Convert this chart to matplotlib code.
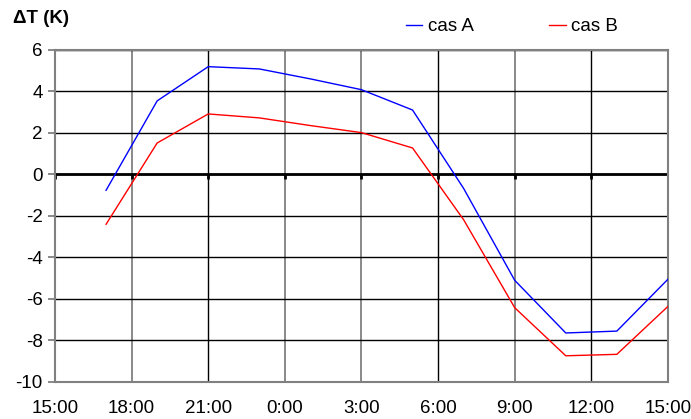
import numpy as np
import matplotlib
matplotlib.use("Agg")
import matplotlib.pyplot as plt

plt.rcParams['font.family'] = ['Liberation Sans', 'DejaVu Sans']

# --- données (heures depuis 0:00 du premier jour) ---
heures = [17, 19, 21, 23, 25, 27, 29, 31, 33, 35, 37, 39]
cas_a = [-0.77, 3.54, 5.19, 5.08, 4.6, 4.08, 3.10, -0.68, -5.11, -7.65, -7.56, -5.06]
cas_b = [-2.41, 1.51, 2.91, 2.72, 2.35, 2.01, 1.27, -2.19, -6.43, -8.75, -8.68, -6.37]

ticks_x = [15, 18, 21, 24, 27, 30, 33, 36, 39]
labels_x = ["15:00", "18:00", "21:00", "0:00", "3:00", "6:00", "9:00", "12:00", "15:00"]
ticks_y = [-10, -8, -6, -4, -2, 0, 2, 4, 6]

FS = 13.5

fig = plt.figure(figsize=(6.91, 4.19), dpi=100)
ax = fig.add_axes([0.0796, 0.089, 0.887, 0.792])

ax.set_xlim(15, 39)
ax.set_ylim(-10, 6)
ax.set_xticks(ticks_x)
ax.set_xticklabels(labels_x, fontsize=FS)
ax.set_yticks(ticks_y)
ax.set_yticklabels([str(v) for v in ticks_y], fontsize=FS)

# grille façon Excel (certaines verticales grises)
ax.grid(True, color='black', linewidth=1)
couleurs_v = ['#808080', '#808080', 'black', '#808080', '#808080', 'black', '#808080', 'black', '#808080']
for ligne, c in zip(ax.get_xgridlines(), couleurs_v):
    ligne.set_color(c)
    ligne.set_linewidth(1.3 if c != 'black' else 1.0)
ax.set_axisbelow(True)

for s in ax.spines.values():
    s.set_color('#808080')
    s.set_linewidth(1.5)

ax.tick_params(axis='x', length=0, pad=13)
ax.tick_params(axis='y', length=5, color='#808080', width=1.3, pad=4)

# axe horizontal à zéro
ax.axhline(0, color='black', linewidth=2, zorder=2)
ax.vlines(ticks_x, -0.25, 0, color='black', linewidth=2, zorder=2)

ax.plot(heures, cas_a, color='blue', linewidth=1, label='cas A', zorder=3)
ax.plot(heures, cas_b, color='red', linewidth=1, label='cas B', zorder=3)

fig.text(0.019, 0.955, "ΔT (K)", fontsize=FS, fontweight='bold', va='center')

fig.legend(loc='center left', bbox_to_anchor=(0.587, 0.936), ncol=2, frameon=False,
           fontsize=FS, handlelength=0.9, handletextpad=0.3, columnspacing=4.0,
           borderpad=0, borderaxespad=0)

fig.savefig("out.png", dpi=100)
